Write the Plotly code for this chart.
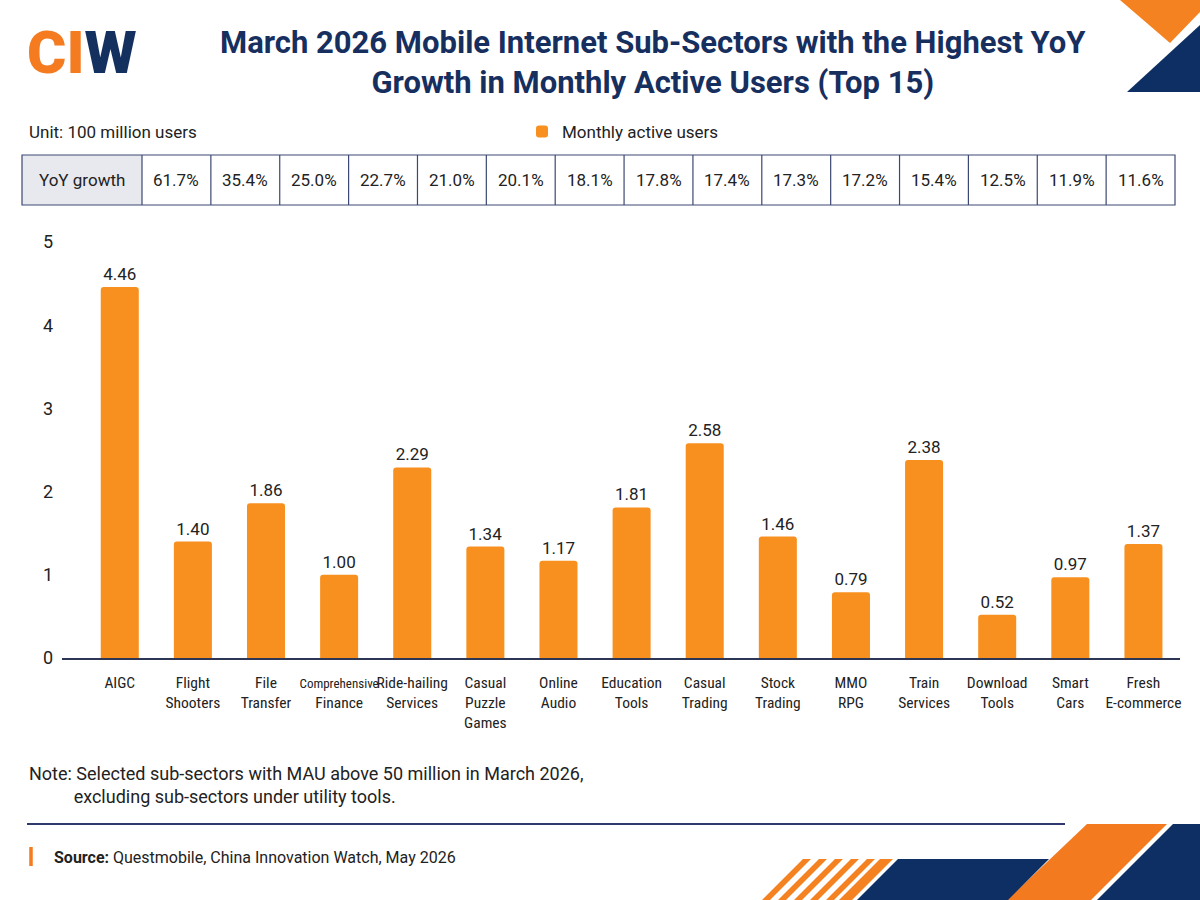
import plotly.graph_objects as go

W, H = 1200, 900

categories = ["AIGC", "Flight<br>Shooters", "File<br>Transfer", "Comprehensive<br>Finance",
              "Ride-hailing<br>Services", "Casual<br>Puzzle<br>Games", "Online<br>Audio",
              "Education<br>Tools", "Casual<br>Trading", "Stock<br>Trading", "MMO<br>RPG",
              "Train<br>Services", "Download<br>Tools", "Smart<br>Cars", "Fresh<br>E-commerce"]
mau = [4.46, 1.40, 1.86, 1.00, 2.29, 1.34, 1.17, 1.81, 2.58, 1.46, 0.79, 2.38, 0.52, 0.97, 1.37]
yoy_growth = ["61.7%", "35.4%", "25.0%", "22.7%", "21.0%", "20.1%", "18.1%", "17.8%",
              "17.4%", "17.3%", "17.2%", "15.4%", "12.5%", "11.9%", "11.6%"]
y_ticks = [0, 1, 2, 3, 4, 5]

ORANGE = "#F7901E"
NAVY = "#172F5F"
TXT = "#222222"
FONT = "Roboto"
NARROW = "Liberation Sans Narrow, Roboto Condensed, Roboto"


def px(x):
    return x / W


def py(y):
    return 1 - y / H


def tick_label(c):
    # shrink the very long first line so it fits its slot, as in the original
    parts = c.split("<br>")
    parts = [f"<span style='font-size:13px'>{p}</span>" if len(p) > 12 else p for p in parts]
    return "<br>".join(parts)


fig = go.Figure()
fig.add_trace(go.Bar(
    x=list(range(len(categories))), y=mau, name="Monthly active users",
    marker=dict(color=ORANGE, line=dict(width=0), cornerradius=3),
    width=0.52,
    text=[f"{v:.2f}" for v in mau], textposition="outside",
    textfont=dict(size=17, color=TXT, family=FONT), cliponaxis=False,
))

shapes = []
annotations = []


def ann(x, y, text, size, color=TXT, xanchor="center", family=FONT, weight="normal", align="center"):
    annotations.append(dict(
        x=px(x), y=py(y), xref="paper", yref="paper", showarrow=False,
        xanchor=xanchor, yanchor="middle", align=align, text=text,
        font=dict(size=size, color=color, family=family, weight=weight),
    ))


# Title
ann(653, 62, "March 2026 Mobile Internet Sub-Sectors with the Highest YoY<br>Growth in Monthly Active Users (Top 15)",
    31, NAVY, weight="bold")

# Logo
ann(82, 52, "<span style='color:#F47B20'>CI</span><span style='color:#14305F'>W</span>", 60, weight=900)

# Unit text
ann(27, 132, "Unit: 100 million users", 17, xanchor="left")

# Table
tx0, tx1, ty0, ty1, first_w = 22, 1175, 155, 205, 120
cell_w = (tx1 - tx0 - first_w) / len(yoy_growth)
shapes.append(dict(type="rect", xref="paper", yref="paper",
                   x0=px(tx0), x1=px(tx0 + first_w), y0=py(ty1), y1=py(ty0),
                   fillcolor="#E7E9EF", line=dict(width=0), layer="below"))
shapes.append(dict(type="rect", xref="paper", yref="paper",
                   x0=px(tx0), x1=px(tx1), y0=py(ty1), y1=py(ty0),
                   line=dict(color="#3C4873", width=1.2)))
ann(tx0 + first_w / 2, (ty0 + ty1) / 2, "YoY growth", 17)
for i, g in enumerate(yoy_growth):
    xl = tx0 + first_w + i * cell_w
    shapes.append(dict(type="line", xref="paper", yref="paper",
                       x0=px(xl), x1=px(xl), y0=py(ty1), y1=py(ty0),
                       line=dict(color="#3C4873", width=1.2)))
    ann(xl + cell_w / 2, (ty0 + ty1) / 2, g, 17)

# Note
ann(27, 785, "Note: Selected sub-sectors with MAU above 50 million in March 2026,<br>"
             "          excluding sub-sectors under utility tools.", 18, xanchor="left", align="left")
# Separator line
shapes.append(dict(type="line", xref="paper", yref="paper",
                   x0=px(27), x1=px(1065), y0=py(824), y1=py(824),
                   line=dict(color="#2E3A6E", width=2)))
# Source
shapes.append(dict(type="line", xref="paper", yref="paper",
                   x0=px(31), x1=px(31), y0=py(847), y1=py(866),
                   line=dict(color="#F47B20", width=3.5)))
ann(52, 857, "<b>Source:</b> Questmobile, China Innovation Watch, May 2026", 16, xanchor="left")


def poly(points, color):
    d = "M " + " L ".join(f"{px(x)},{py(y)}" for x, y in points) + " Z"
    return dict(type="path", xref="paper", yref="paper", path=d,
                fillcolor=color, line=dict(width=0))


# Top-right decoration
shapes.append(poly([(1120, 0), (1200, 0), (1200, 12), (1170, 43)], "#F58220"))
shapes.append(poly([(1127, 92), (1200, 92), (1200, 25)], "#0E2F63"))

# Bottom-right decoration
shapes.append(poly([(1087, 824), (1167, 824), (1091, 900), (1007, 900)], "#F37A1F"))
shapes.append(poly([(1173, 824), (1200, 824), (1200, 900), (1097, 900)], "#0E2F63"))
shapes.append(poly([(898, 859), (1049, 859), (1008, 900), (857, 900)], "#0E2F63"))
for sx in [803, 819, 835, 851, 867]:
    shapes.append(poly([(sx, 859), (sx + 8, 859), (sx - 33, 900), (sx - 41, 900)], "#F58220"))
shapes.append(poly([(880, 859), (893, 859), (852, 900), (839, 900)], "#F58220"))

fig.update_layout(
    width=W, height=H,
    margin=dict(l=0, r=0, t=0, b=0, autoexpand=False),
    paper_bgcolor="white", plot_bgcolor="white",
    font=dict(family=FONT, color=TXT),
    showlegend=True,
    legend=dict(orientation="h", x=px(522), y=py(132), xanchor="left", yanchor="middle",
                font=dict(size=17, color=TXT, family=FONT), bgcolor="rgba(0,0,0,0)",
                itemwidth=30),
    xaxis=dict(domain=[px(62), px(1180)], range=[-0.79, 14.5],
               tickvals=list(range(len(categories))),
               ticktext=[tick_label(c) for c in categories],
               tickangle=0,
               tickfont=dict(size=15.5, color=TXT, family=NARROW),
               showline=True, linecolor="#2E3656", linewidth=2,
               showgrid=False, ticks="", zeroline=False,
               ticklabelstandoff=9),
    yaxis=dict(domain=[py(658), py(242)], range=[0, 5], tickvals=y_ticks,
               tickfont=dict(size=18, color=TXT, family=FONT),
               showgrid=False, zeroline=False, showline=False, ticks="",
               ticklabelstandoff=8),
    shapes=shapes, annotations=annotations,
)

fig.write_html("out.html")
